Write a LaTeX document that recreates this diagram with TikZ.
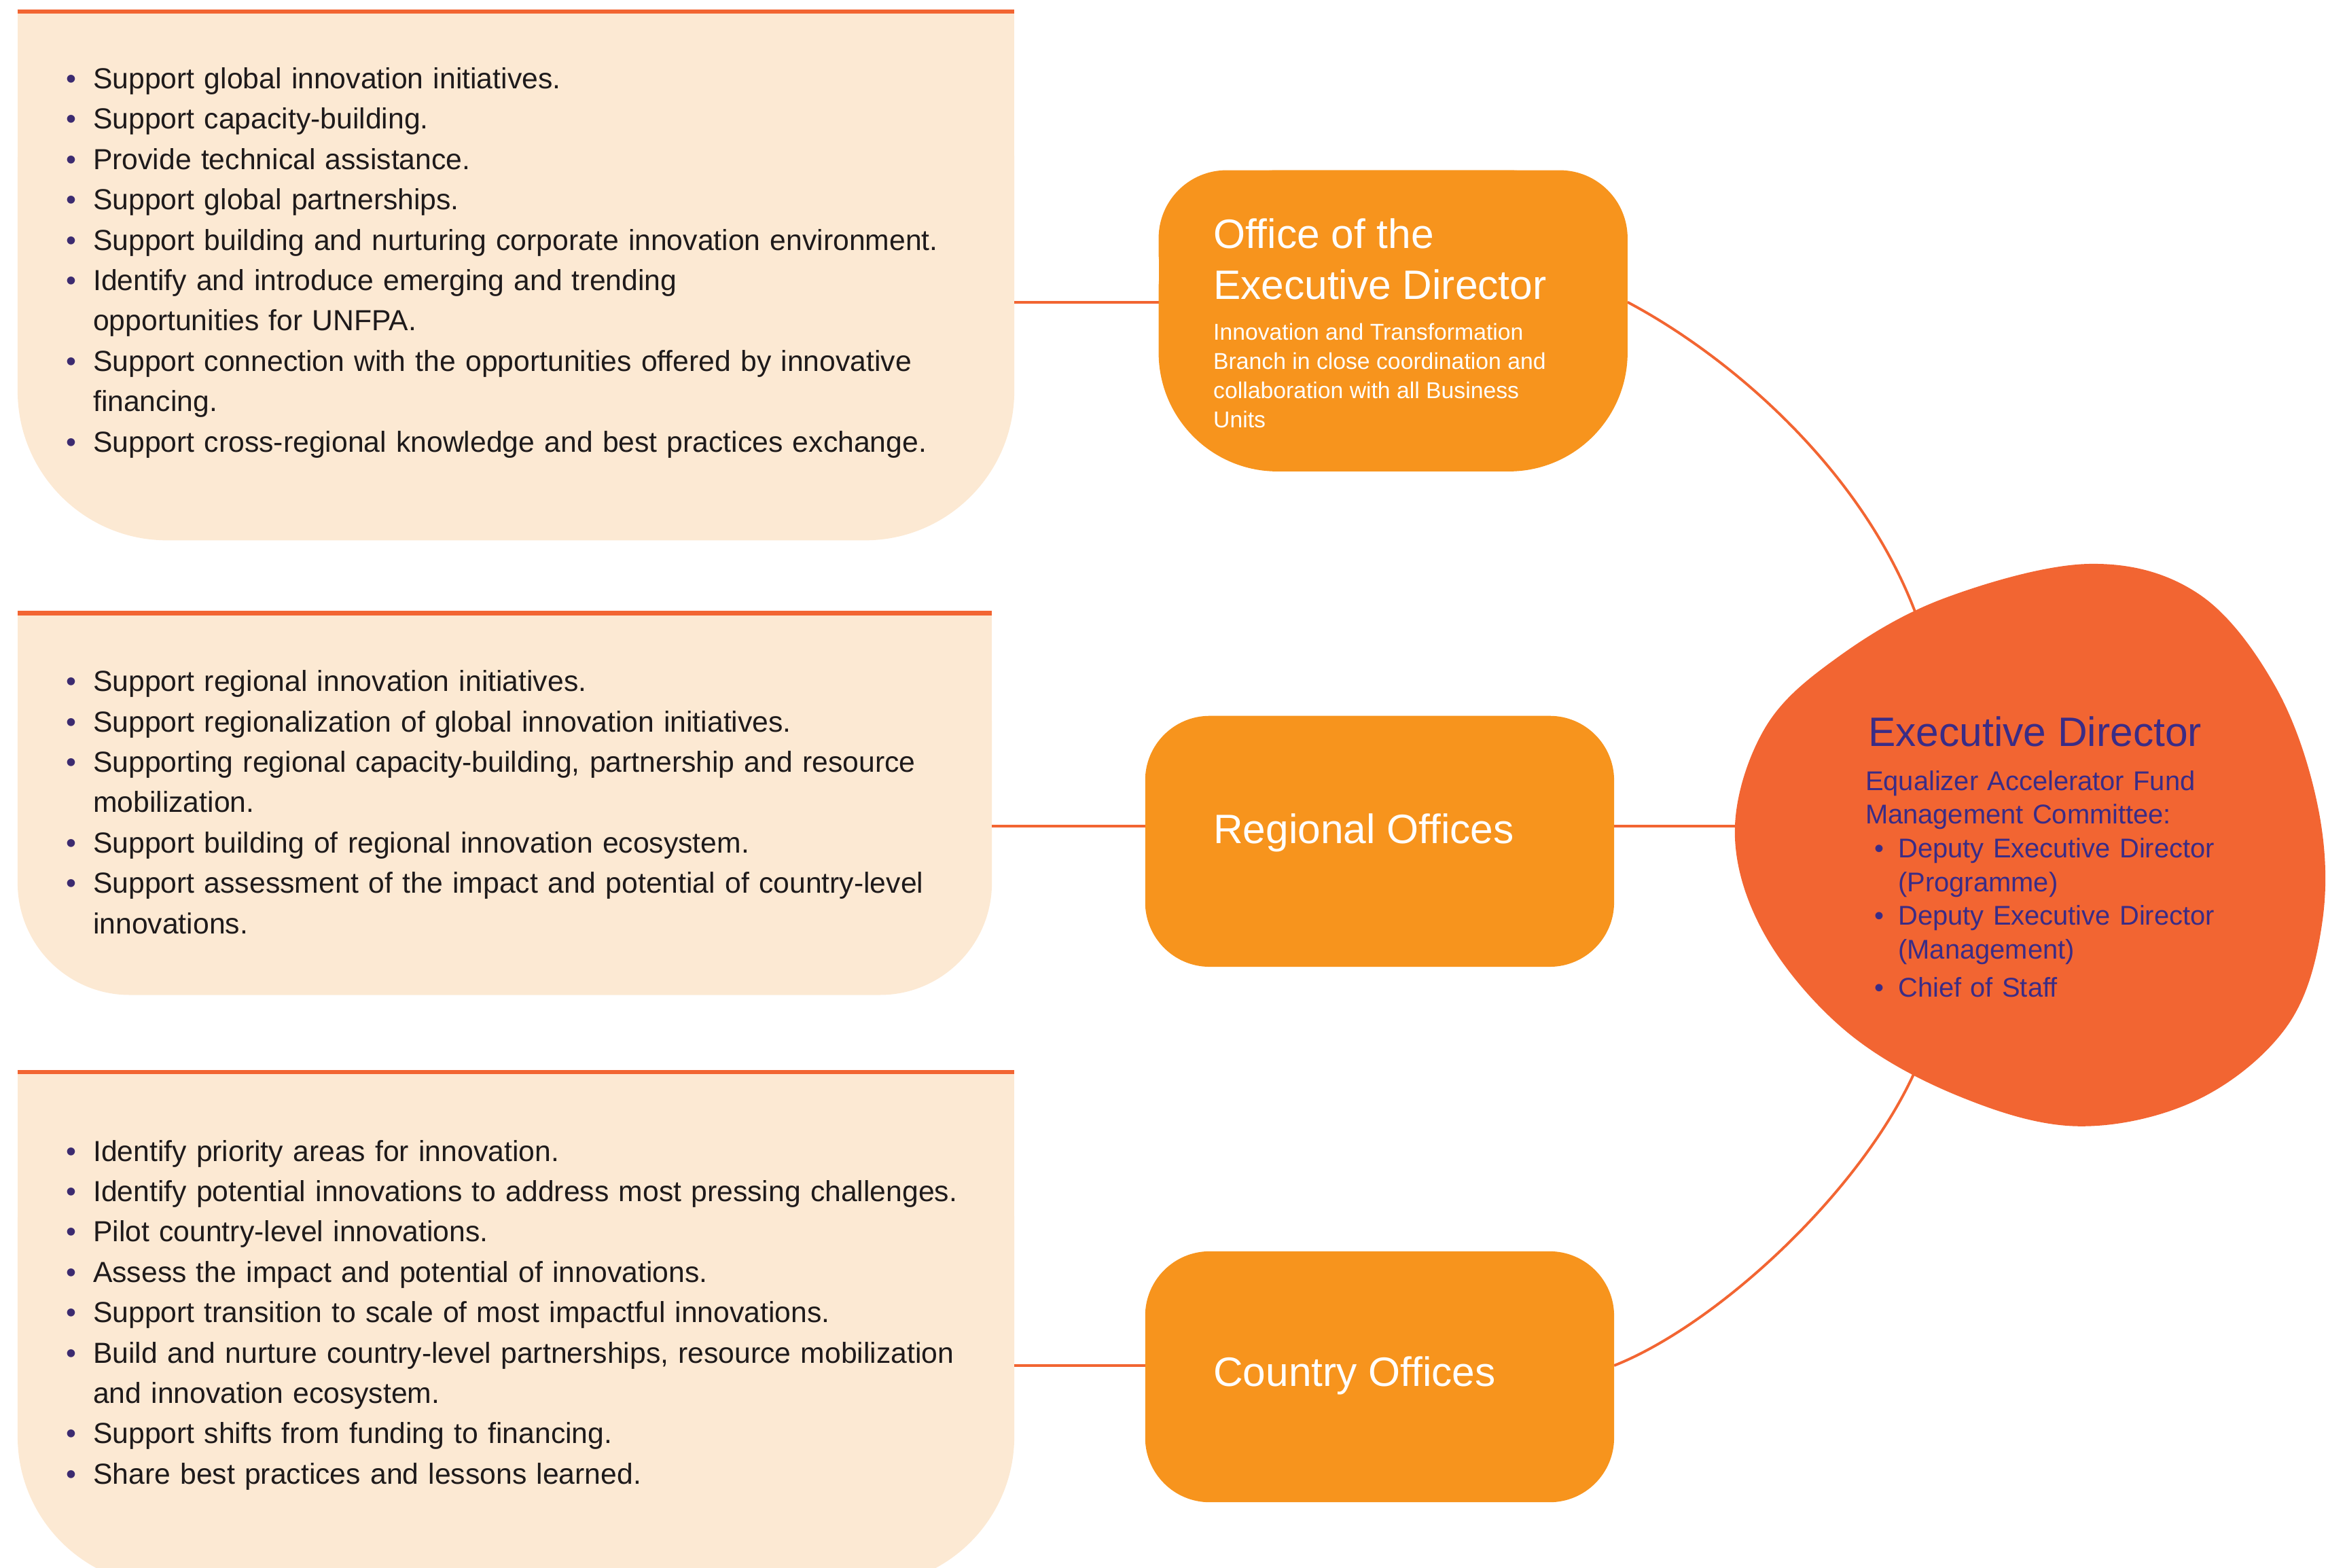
\documentclass[tikz,border=0pt]{standalone}
\usepackage{fontspec}
\setmainfont{Liberation Sans}
\definecolor{peach}{HTML}{FCE9D3}
\definecolor{rust}{HTML}{F26532}
\definecolor{amber}{HTML}{F7941D}
\definecolor{ink}{HTML}{1E1A1B}
\definecolor{navy}{HTML}{3A2C86}
\definecolor{dot}{HTML}{3C2B70}
\newcommand{\itm}[1]{\par\hangindent=0.396cm\hangafter=1\noindent\makebox[0.396cm][l]{\textcolor{dot}{\textbullet}}#1\par}
\newcommand{\edi}[1]{\par\hangindent=0.484cm\hangafter=1\noindent\hspace*{0.13cm}\makebox[0.354cm][l]{\textbullet}#1\par}
\begin{document}
\begin{tikzpicture}[x=0.022015cm, y=-0.022015cm,
    link/.style={rust, line width=1.1pt},
    list/.style={anchor=north west, inner sep=0pt, text width=13.8cm, align=left, text=ink, font=\fontsize{12.15}{16.9}\selectfont},
    head/.style={inner sep=0pt, align=left, font=\fontsize{17.2}{21.3}\selectfont}]
  \useasboundingbox (0,0) rectangle (1568,1048);
  % frames
  \node[minimum width=14.66cm, minimum height=7.77cm] (oedlist) at (345,184.5) {};
  \node[minimum width=14.33cm, minimum height=5.61cm] (rolist) at (337.5,537.5) {};
  \node[minimum width=14.66cm, minimum height=7.55cm] (colist) at (345,888.5) {};
  \node[minimum width=6.89cm, minimum height=4.42cm] (oed) at (931.5,214.5) {};
  \node[minimum width=6.89cm, minimum height=3.68cm] (ro) at (922.5,562.5) {};
  \node[minimum width=6.89cm, minimum height=3.68cm] (co) at (922.5,920.5) {};
  \node[minimum width=8.72cm, minimum height=8.28cm] (ed) at (1358,565.5) {};
  \coordinate (ya) at (0,202);
  \coordinate (yb) at (0,552.5);
  \coordinate (yc) at (0,913);
  \coordinate (edn) at (1287,428);
  \coordinate (eds) at (1284,708);

  \foreach \b/\r in {oedlist/2.2cm, rolist/1.65cm, colist/2.2cm} {
    \fill[peach, rounded corners=\r] (\b.south west) rectangle (\b.north east);
    \fill[peach] (\b.west) rectangle (\b.north east);
    \draw[rust, line width=1.9pt] (\b.north west) -- (\b.north east);
  }

  \draw[link] (oedlist.east |- ya) -- (oed.west |- ya);
  \draw[link] (rolist.east |- yb) -- (ro.west |- yb);
  \draw[link] (colist.east |- yc) -- (co.west |- yc);
  \draw[link] (oed.east |- ya) .. controls (1160,240) and (1255,322) .. (edn);
  \draw[link] (ro.east |- yb) -- (ed.center |- yb);
  \draw[link] (co.east |- yc) .. controls (1150,885) and (1250,792) .. (eds);

  \fill[amber, rounded corners=1.75cm] (oed.south west) rectangle (oed.north east);
  \fill[amber, rounded corners=1cm] (oed.north west) rectangle (oed.east);
  \fill[amber] ([yshift=-1cm]oed.north west) rectangle ([yshift=1.75cm]oed.south east);
  \foreach \b in {ro, co}
    \fill[amber, rounded corners=0.95cm] (\b.south west) rectangle (\b.north east);

  \fill[rust] plot[smooth cycle, tension=0.6] coordinates {(1397,377) (1470,397)
    (1522,460) (1550,540) (1553,615) (1530,685) (1470,735) (1390,753) (1310,733)
    (1235,690) (1180,625) (1160,556) (1180,487) (1228,440) (1300,400)};

  % texts
  \node[list] (oedtxt) at (44,32) {%
    \itm{Support global innovation initiatives.}
    \itm{Support capacity-building.}
    \itm{Provide technical assistance.}
    \itm{Support global partnerships.}
    \itm{Support building and nurturing corporate innovation environment.}
    \itm{Identify and introduce emerging and trending\newline opportunities for UNFPA.}
    \itm{Support connection with the opportunities offered by innovative\newline financing.}
    \itm{Support cross-regional knowledge and best practices exchange.}};
  \node[list] (rotxt) at (44,435) {%
    \itm{Support regional innovation initiatives.}
    \itm{Support regionalization of global innovation initiatives.}
    \itm{Supporting regional capacity-building, partnership and resource\newline mobilization.}
    \itm{Support building of regional innovation ecosystem.}
    \itm{Support assessment of the impact and potential of country-level\newline innovations.}};
  \node[list] (cotxt) at (44,749) {%
    \itm{Identify priority areas for innovation.}
    \itm{Identify potential innovations to address most pressing challenges.}
    \itm{Pilot country-level innovations.}
    \itm{Assess the impact and potential of innovations.}
    \itm{Support transition to scale of most impactful innovations.}
    \itm{Build and nurture country-level partnerships, resource mobilization\newline and innovation ecosystem.}
    \itm{Support shifts from funding to financing.}
    \itm{Share best practices and lessons learned.}};

  \node[head, text=white, anchor=north west] (oedt) at (811,146) {Office of the\\Executive Director};
  \node[inner sep=0pt, align=left, text=white, anchor=north west, font=\fontsize{9.6}{12.2}\selectfont] (oeds) at (811,216)
    {Innovation and Transformation\\Branch in close coordination and\\collaboration with all Business\\Units};
  \node[head, text=white, anchor=base west] (rot) at (811,564) {Regional Offices};
  \node[head, text=white, anchor=base west] (cot) at (811,927) {Country Offices};
  \node[head, text=navy, anchor=base west] (edt) at (1249,499) {Executive Director};
  \node[inner sep=0pt, text width=6.5cm, align=left, text=navy, anchor=north west, font=\fontsize{11.35}{14.1}\selectfont] (eds) at (1247,515) {%
    Equalizer Accelerator Fund\newline Management Committee:
    \edi{Deputy Executive Director\newline (Programme)}
    \edi{Deputy Executive Director\newline (Management)}
    \vspace{2pt}
    \edi{Chief of Staff}};
\end{tikzpicture}
\end{document}
